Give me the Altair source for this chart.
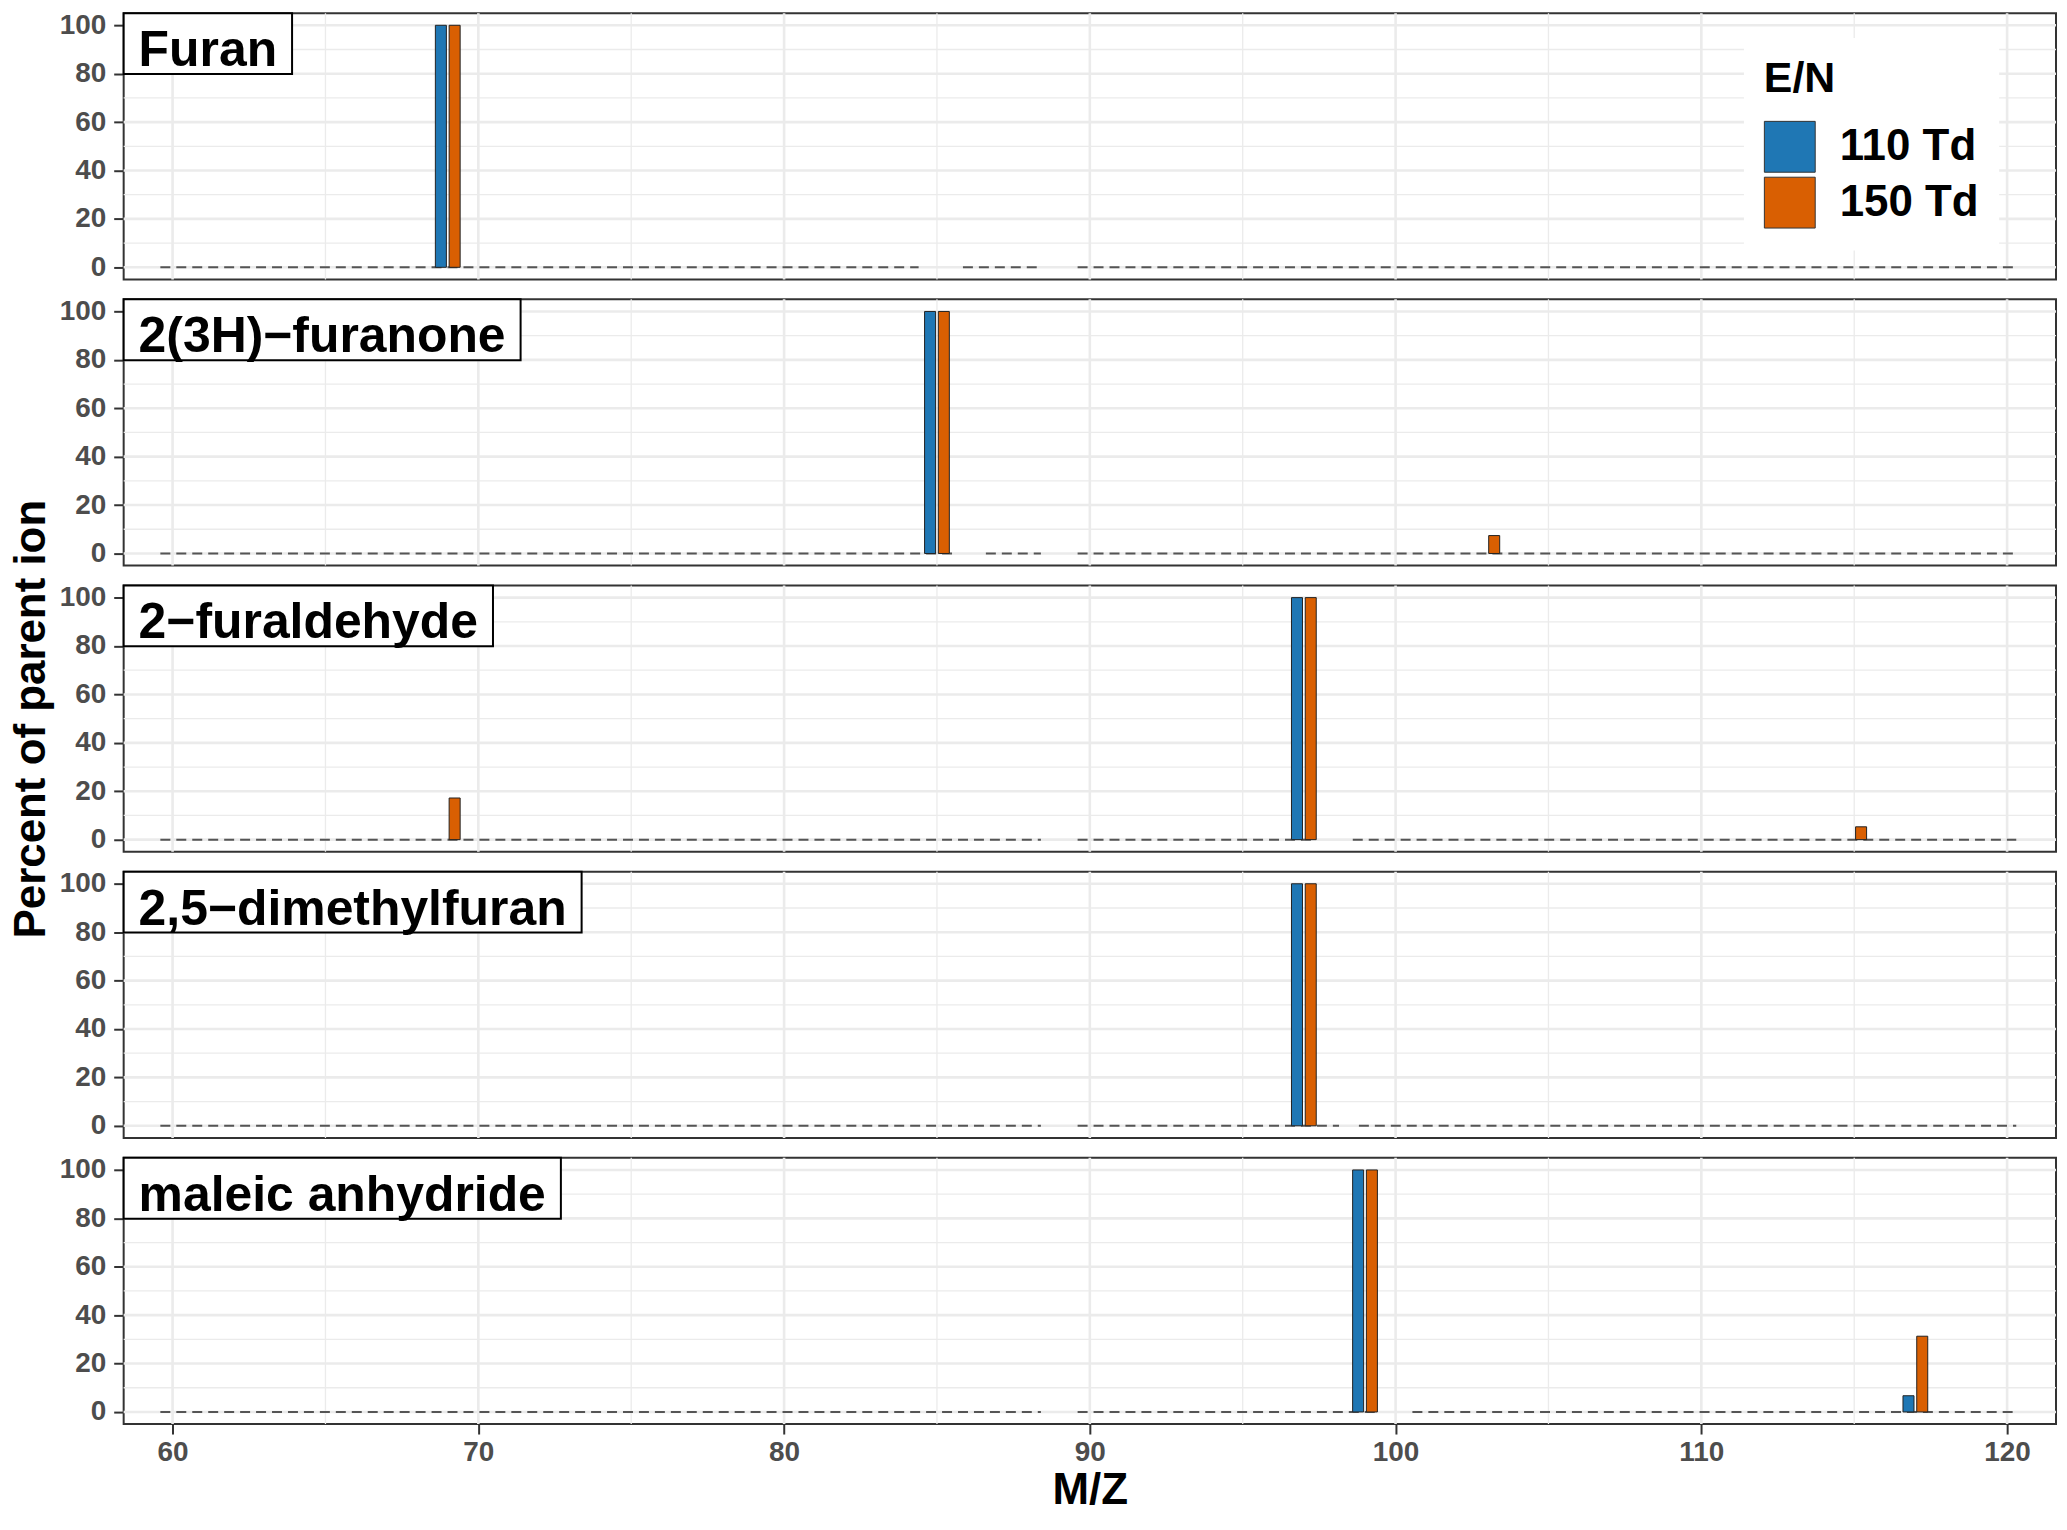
import altair as alt
import pandas as pd

# ---------------- data ----------------
compounds = ["Furan", "2(3H)\u2212furanone", "2\u2212furaldehyde",
             "2,5\u2212dimethylfuran", "maleic anhydride"]
series = ["110 Td", "150 Td"]
colors = ["#1F77B4", "#D95F02"]

bar_compound = [0, 1, 1, 2, 2, 2, 3, 4, 4]
bar_mz = [69, 85, 103, 69, 97, 115, 97, 99, 117]
val_110 = [100, 100, 0, 0, 100, 0, 100, 100, 6.7]
val_150 = [100, 100, 7.4, 17.2, 100, 5.3, 100, 100, 31.3]

# dashed zero baseline segments (m/z start / end) per compound
seg_compound = [0, 0, 0, 1, 1, 1, 2, 2, 2, 3, 3, 3, 4, 4, 4]
seg_start = [59.6, 85.85, 89.6, 59.6, 86.6, 89.6, 59.6, 89.6, 98.6,
             59.6, 89.6, 98.8, 59.6, 89.6, 100.55]
seg_end = [84.4, 88.4, 120.3, 85.5, 88.4, 120.3, 88.4, 97.4, 120.3,
           88.4, 98.15, 120.3, 88.4, 99.4, 120.3]

x_major = [60, 70, 80, 90, 100, 110, 120]
y_major = [0, 20, 40, 60, 80, 100]

# ---------------- helpers ----------------
x_minor = [(a + b) / 2 for a, b in zip(x_major[:-1], x_major[1:])]
y_minor = [(a + b) / 2 for a, b in zip(y_major[:-1], y_major[1:])]

BAR_W = 0.36
DODGE = 0.225

# Arial Bold advance widths (per 1000 em) for label box sizing
AW = {"F": 611, "H": 722, "a": 556, "c": 556, "d": 611, "e": 556, "f": 333,
      "h": 611, "i": 278, "l": 278, "m": 889, "n": 611, "o": 611, "r": 389,
      "t": 333, "u": 611, "y": 556, "(": 333, ")": 333, ",": 278, " ": 278,
      "\u2212": 584, "-": 333}


def text_w(s, size):
    return sum(AW.get(ch, 556) for ch in s) * size / 1000.0


LABEL_FS = 50
FONT = "Liberation Sans"
W = 1938
H = 267
GRID = "#EBEBEB"

xscale = alt.Scale(domain=[58.4, 121.6], nice=False, zero=False)
yscale = alt.Scale(domain=[-5, 105], nice=False, zero=False)

legend = alt.Legend(
    orient="none", legendX=1625, legendY=25, title="E/N",
    titleFontSize=43, titleFontWeight="bold", titleColor="black", titleFont=FONT,
    labelFontSize=44, labelFontWeight="bold", labelColor="black", labelFont=FONT,
    symbolType="square", symbolSize=2601, symbolStrokeColor="#333333",
    symbolStrokeWidth=1, symbolOpacity=1, rowPadding=0, labelOffset=24,
    padding=20, fillColor="white", titlePadding=20,
)


def panel(i, bottom):
    rows = []
    for c, mz, a, b in zip(bar_compound, bar_mz, val_110, val_150):
        if c != i:
            continue
        for s, v, off in ((series[0], a, -DODGE), (series[1], b, DODGE)):
            if v > 0:
                rows.append({"mz": mz, "series": s, "value": v,
                             "x1": mz + off - BAR_W / 2, "x2": mz + off + BAR_W / 2})
    bdf = pd.DataFrame(rows)
    sdf = pd.DataFrame([{"s": a, "e": b} for c, a, b in zip(seg_compound, seg_start, seg_end) if c == i])

    if bottom:
        xaxis = alt.Axis(values=x_major, grid=False,
                         tickSize=10, tickWidth=2, tickColor="#333333", domain=False,
                         labelFontSize=28, labelFontWeight="bold", labelColor="#4D4D4D",
                         labelFont=FONT, labelPadding=5, labelFlush=False,
                         title="M/Z", titleFontSize=44, titleFontWeight="bold",
                         titleColor="black", titleFont=FONT, titlePadding=2)
    else:
        xaxis = alt.Axis(values=x_major, labels=False, ticks=False, domain=False, title=None,
                         grid=False)
    yaxis = alt.Axis(values=y_major, grid=False,
                     tickSize=10, tickWidth=2, tickColor="#333333", domain=False,
                     labelFontSize=28, labelFontWeight="bold", labelColor="#4D4D4D",
                     labelFont=FONT, labelPadding=8, labelFlush=False,
                     title="Percent of parent ion" if i == 2 else None,
                     titleFontSize=44, titleFontWeight="bold", titleColor="black",
                     titleFont=FONT, titlePadding=6)

    vmaj = alt.Chart(pd.DataFrame({"g": x_major})).mark_rule(color=GRID, strokeWidth=2.6).encode(
        x=alt.X("g:Q", scale=xscale, axis=xaxis))
    vmin = alt.Chart(pd.DataFrame({"g": x_minor})).mark_rule(color=GRID, strokeWidth=1.3).encode(
        x=alt.X("g:Q", scale=xscale, axis=xaxis))
    hmaj = alt.Chart(pd.DataFrame({"g": y_major})).mark_rule(color=GRID, strokeWidth=2.6).encode(
        y=alt.Y("g:Q", scale=yscale, axis=yaxis))
    hmin = alt.Chart(pd.DataFrame({"g": y_minor})).mark_rule(color=GRID, strokeWidth=1.3).encode(
        y=alt.Y("g:Q", scale=yscale, axis=yaxis))

    dashes = alt.Chart(sdf).mark_rule(strokeDash=[10, 6], color="#555555", strokeWidth=2).encode(
        x=alt.X("s:Q", scale=xscale, axis=xaxis),
        x2="e:Q",
        y=alt.datum(0),
    )
    bars = alt.Chart(bdf).mark_rect(stroke="#222222", strokeWidth=1).encode(
        x=alt.X("x1:Q", scale=xscale, axis=xaxis),
        x2="x2:Q",
        y=alt.Y("value:Q", scale=yscale, axis=yaxis),
        y2=alt.datum(0),
        color=alt.Color("series:N", scale=alt.Scale(domain=series, range=colors), legend=legend),
    )
    name = compounds[i]
    bw = text_w(name, LABEL_FS) + 30
    ldf = pd.DataFrame({"t": [name]})
    box = alt.Chart(ldf).mark_rect(fill="white", stroke="black", strokeWidth=2).encode(
        x=alt.value(0), x2=alt.value(bw), y=alt.value(0), y2=alt.value(61)
    )
    txt = alt.Chart(ldf).mark_text(align="left", baseline="alphabetic", fontSize=LABEL_FS,
                                   fontWeight="bold", color="black", font=FONT).encode(
        x=alt.value(15), y=alt.value(53), text="t:N"
    )
    return alt.layer(vmin, vmaj, hmin, hmaj, dashes, bars, box, txt).properties(width=W, height=H)


panels = [panel(i, i == len(compounds) - 1) for i in range(len(compounds))]

chart = (
    alt.vconcat(*panels, spacing=20, bounds="flush")
    .properties(padding={"left": 0, "top": 0, "right": 0, "bottom": 0})
    .configure(font=FONT)
    .configure_view(stroke="#333333", strokeWidth=2)
)

chart.save("out.html", embed_options={"renderer": "svg", "actions": False})
